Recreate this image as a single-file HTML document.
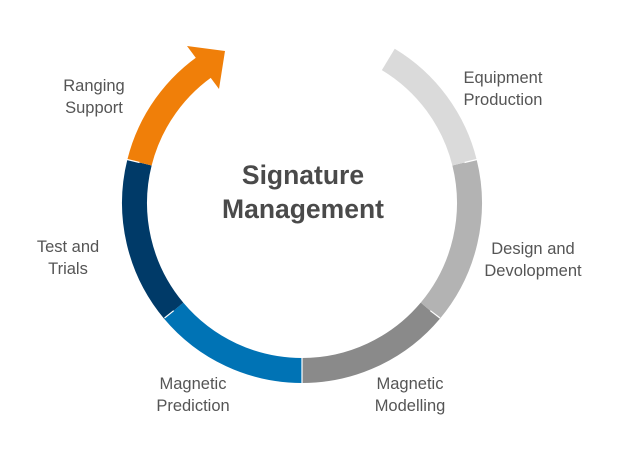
<!DOCTYPE html>
<html><head><style>
body{margin:0;background:#fff;}
svg{display:block;}
text{font-family:"Liberation Sans",sans-serif;fill:#555;font-size:16.5px;}
.t{font-weight:bold;font-size:26.5px;fill:#4a4a4a;}
</style></head><body>
<svg width="632" height="449" viewBox="0 0 632 449">
<g fill="none" stroke-width="25">
<path d="M302 370.5 A167.5 167.5 0 0 1 173.7 310.7" stroke="#0073b5"/>
<path d="M173.7 310.7 A167.5 167.5 0 0 1 139.5 162.5" stroke="#003a68"/>
<path d="M139.5 162.5 A167.5 167.5 0 0 1 211 62.5" stroke="#f07f09"/>
<path d="M430.3 310.7 A167.5 167.5 0 0 1 302 370.5" stroke="#8a8a8a"/>
<path d="M464.5 162.5 A167.5 167.5 0 0 1 430.3 310.7" stroke="#b3b3b3"/>
<path d="M388.3 59.4 A167.5 167.5 0 0 1 464.5 162.5" stroke="#dadada"/>
</g>
<polygon points="187,46 225,51 219,89" fill="#f07f09"/>
<g stroke="#fff" stroke-width="1.2">
<line x1="173.7" y1="310.7" x2="164.5" y2="318"/>
<line x1="139.5" y1="162.5" x2="127" y2="159.5"/>
<line x1="302" y1="355" x2="302" y2="384"/>
<line x1="430.3" y1="310.7" x2="440" y2="318"/>
<line x1="464.5" y1="162.5" x2="477" y2="159.5"/>
</g>
<text class="t" x="303" y="184" text-anchor="middle">Signature</text>
<text class="t" x="303" y="218" text-anchor="middle">Management</text>
<g text-anchor="middle">
<text x="94" y="91">Ranging</text><text x="94" y="113">Support</text>
<text x="503" y="83">Equipment</text><text x="503" y="105">Production</text>
<text x="533" y="254">Design and</text><text x="533" y="276">Devolopment</text>
<text x="410" y="389">Magnetic</text><text x="410" y="411">Modelling</text>
<text x="193" y="389">Magnetic</text><text x="193" y="411">Prediction</text>
<text x="68" y="252">Test and</text><text x="68" y="274">Trials</text>
</g>
</svg>
</body></html>
